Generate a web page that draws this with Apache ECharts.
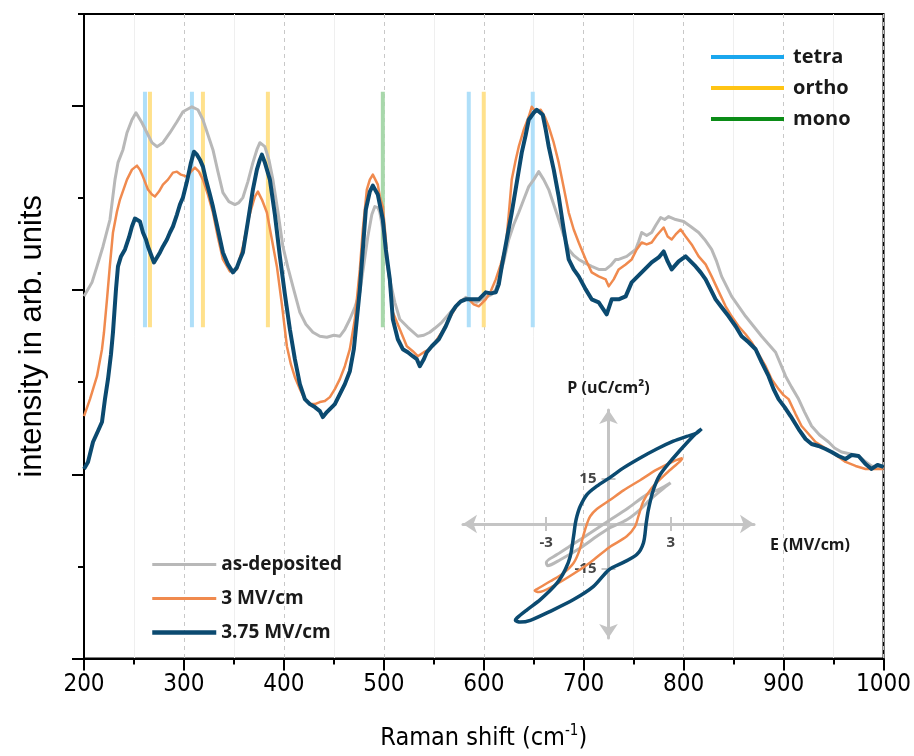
<!DOCTYPE html>
<html>
<head>
<meta charset="utf-8">
<script src="https://cdn.jsdelivr.net/npm/echarts@6/dist/echarts.min.js"></script>
<style>
  html, body { margin: 0; padding: 0; background: #fff; }
  #chart { width: 914px; height: 756px; }
</style>
</head>
<body>
<div id="chart"></div>
<script>
// Raman spectra: [shift in cm-1, intensity in arb. units]
const asDeposited = [[200,363],[208,377],[213,393],[219,413],[226,440],[231,480],[234,497],[239,510],[243,527],[248,540],[252,547],[258,537],[263,527],[268,517],[273,513],[279,517],[286,527],[293,538],[299,548],[308,553],[314,550],[319,540],[324,525],[329,510],[334,488],[339,467],[345,458],[351,455],[355,457],[359,462],[364,478],[369,497],[373,510],[376,517],[381,513],[385,500],[389,480],[394,448],[399,413],[404,392],[409,373],[416,347],[422,335],[429,327],[436,323],[443,322],[450,324],[456,323],[461,330],[466,340],[471,352],[476,367],[480,395],[484,423],[488,445],[491,453],[494,452],[496,447],[499,430],[503,397],[506,380],[511,357],[516,340],[524,332],[534,323],[540,324],[546,327],[551,331],[558,337],[565,345],[572,353],[577,358],[582,362],[587,360],[593,357],[598,360],[602,362],[608,365],[612,370],[615,380],[620,398],[625,420],[630,435],[635,447],[640,460],[645,473],[650,480],[655,488],[660,480],[665,470],[670,455],[675,440],[680,424],[685,410],[690,404],[695,400],[702,396],[708,393],[715,390],[722,390],[727,394],[732,400],[735,400],[743,403],[752,410],[755,418],[758,427],[763,424],[768,427],[772,434],[777,442],[781,440],[785,443],[792,440],[800,438],[807,433],[815,427],[821,420],[828,410],[833,398],[838,383],[843,373],[848,363],[855,353],[862,343],[870,333],[878,323],[885,315],[892,307],[897,295],[902,283],[908,272],[915,260],[921,247],[928,233],[936,224],[945,217],[951,211],[958,207],[967,205],[975,203],[981,198],[988,193],[994,192],[1000,190]];

const field3 = [[200,243],[206,260],[213,283],[218,310],[220,327],[223,360],[226,395],[229,427],[233,448],[236,460],[243,480],[248,490],[253,494],[256,490],[259,483],[264,470],[268,465],[271,463],[275,468],[279,475],[284,480],[289,487],[293,488],[297,485],[303,483],[307,488],[311,492],[315,488],[319,480],[324,465],[329,447],[334,422],[339,400],[346,388],[353,390],[359,413],[364,438],[368,453],[371,463],[374,468],[378,460],[383,447],[388,420],[393,393],[398,355],[403,313],[407,295],[411,282],[416,270],[421,260],[426,255],[431,255],[436,257],[441,258],[446,262],[451,270],[456,280],[461,293],[466,310],[471,340],[476,390],[479,430],[483,470],[486,480],[489,485],[491,487],[494,475],[496,463],[499,453],[502,420],[504,393],[509,347],[516,330],[523,313],[529,308],[534,303],[540,307],[546,310],[552,318],[558,327],[565,340],[575,357],[580,360],[585,360],[590,355],[595,353],[602,360],[607,368],[612,380],[617,395],[622,413],[625,445],[628,480],[632,500],[635,513],[640,530],[645,543],[648,553],[652,548],[657,550],[661,543],[665,533],[670,517],[675,497],[680,472],[685,447],[690,430],[695,417],[702,400],[708,387],[715,383],[722,380],[725,373],[730,380],[735,390],[742,395],[748,400],[753,410],[758,417],[763,415],[768,417],[773,424],[780,432],[784,423],[788,420],[792,425],[797,430],[802,423],[808,415],[815,403],[822,395],[828,383],[835,368],[842,353],[848,343],[855,333],[862,325],[868,317],[875,305],[882,293],[888,280],[895,270],[900,264],[905,260],[912,245],[918,233],[925,225],[932,217],[940,212],[948,207],[955,202],[962,197],[972,193],[982,190],[991,190],[1000,190]];

const field375 = [[200,190],[204,197],[209,217],[214,228],[218,237],[221,260],[224,280],[227,305],[229,327],[232,370],[234,393],[237,403],[241,410],[245,422],[248,433],[251,441],[253,443],[256,438],[259,427],[262,420],[264,413],[267,405],[270,397],[273,402],[276,407],[279,413],[283,420],[286,427],[289,433],[293,445],[296,455],[299,462],[303,478],[307,497],[310,508],[313,505],[316,500],[319,493],[322,480],[326,465],[329,453],[334,430],[339,407],[344,395],[349,387],[353,392],[356,400],[359,407],[364,438],[369,470],[373,490],[376,500],[378,505],[381,497],[386,480],[391,445],[396,403],[401,365],[406,330],[411,300],[416,275],[421,260],[426,255],[431,252],[436,248],[439,242],[443,247],[446,250],[451,255],[456,265],[461,275],[466,288],[470,310],[473,340],[476,370],[479,410],[482,450],[486,468],[489,474],[491,475],[494,465],[496,455],[499,440],[502,410],[506,380],[509,340],[514,320],[519,310],[524,307],[529,303],[533,300],[536,293],[540,300],[543,307],[548,313],[555,320],[562,333],[568,347],[572,353],[577,358],[582,360],[588,360],[595,360],[599,364],[602,367],[607,366],[612,367],[615,375],[618,393],[623,420],[628,447],[633,477],[638,507],[642,525],[645,540],[650,547],[653,550],[655,552],[659,545],[662,530],[665,513],[670,490],[675,463],[680,430],[685,400],[690,390],[695,383],[702,370],[708,360],[715,357],[719,351],[723,345],[728,360],[735,360],[742,363],[748,377],[753,382],[758,387],[763,392],[768,397],[775,402],[780,408],[784,398],[788,390],[795,398],[802,403],[807,398],[812,393],[817,387],[822,380],[827,370],[832,360],[838,352],[845,343],[852,333],[858,323],[865,317],[872,310],[878,297],[885,283],[890,270],[895,260],[901,252],[907,243],[915,230],[922,220],[928,215],[935,213],[942,210],[948,207],[955,203],[962,200],[968,204],[975,203],[982,195],[988,190],[994,194],[1000,192]];

// reference positions of the phase modes (cm-1)
const tetraShift = [261, 308, 585, 649];
const orthoShift = [266, 319, 384, 600];
const monoShift = [499];
const phaseRange = [332, 568];

// P-E hysteresis loops: [E in MV/cm, P in uC/cm2]
const loopAsDep = [[2.99,13.7],[2.48,11.7],[1.84,9.8],[0.88,5],[0.03,1.2],[-0.88,-3],[-1.68,-6.6],[-2.48,-10.2],[-2.99,-12.8],[-2.93,-13.9],[-2.32,-11.9],[-1.36,-8],[-0.56,-4.1],[0.03,-1.4],[0.88,1.4],[1.52,4.8],[2,8.1],[2.56,11.4],[2.99,13.7]];
const loop3 = [[3.57,22],[3.12,20.9],[2.32,18.1],[1.52,14.6],[0.72,11.2],[0.03,7.8],[-0.56,5],[-0.88,2.6],[-1.04,0],[-1.2,-3.6],[-1.39,-8.6],[-1.68,-13],[-2.16,-16.3],[-2.8,-19.1],[-3.44,-21.7],[-3.55,-22.2],[-3.36,-22.7],[-2.64,-20.6],[-1.68,-16.6],[-0.88,-12.8],[0.03,-7.8],[0.88,-4.1],[1.28,-0.8],[1.44,2.6],[1.68,7.6],[2.08,12],[2.8,17],[3.44,20.9],[3.57,22]];
const loop375 = [[4.48,31.7],[4.24,30.3],[3.76,29.2],[3.12,27.6],[2.32,25],[1.52,22],[0.72,18.7],[0.03,15.3],[-0.56,12.6],[-1.04,9.8],[-1.36,5.9],[-1.52,2.6],[-1.6,0],[-1.68,-4.1],[-1.84,-10.8],[-2.08,-15.2],[-2.48,-19.7],[-3.28,-25.2],[-3.92,-28.6],[-4.4,-31.3],[-4.48,-32.1],[-4.24,-32.7],[-3.76,-32.1],[-2.8,-29.1],[-1.68,-25.2],[-0.72,-20.8],[0.03,-15.2],[0.72,-12.8],[1.36,-10.2],[1.68,-6.3],[1.81,0],[1.92,4.8],[2.16,11.4],[2.48,16.4],[3.12,22],[3.84,27.6],[4.32,30.9],[4.48,31.7]];

const majorTicksY = [0, 184.6, 369.2, 553.8];
const minorTicksY = [92.3, 276.9, 461.5, 646];
const insetTicksE = [-3, 3];
const insetTicksP = [-15, 15];

const axisFont = "'Liberation Sans Narrow', 'DejaVu Sans Condensed', 'Liberation Sans', Arial, sans-serif";
const textFont = "'Open Sans', 'Noto Sans', sans-serif";

const chart = echarts.init(document.getElementById('chart'), null, { renderer: 'canvas' });

function phaseSegments(positions) {
    const out = [];
    positions.forEach(x => {
        out.push([x, phaseRange[0]], [x, phaseRange[1]], [x, '-']);
    });
    return out;
}

function phaseSeries(name, positions, color) {
    return {
        name: name,
        type: 'line',
        data: phaseSegments(positions),
        symbol: 'none',
        silent: true,
        connectNulls: false,
        z: 1,
        lineStyle: { color: color, width: 4 },
        itemStyle: { color: color }
    };
}

function spectrumSeries(name, data, color, width, z) {
    return {
        name: name,
        type: 'line',
        data: data,
        symbol: 'none',
        z: z,
        lineStyle: { color: color, width: width, join: 'round' },
        itemStyle: { color: color }
    };
}

function loopSeries(name, data, color, width) {
    return {
        name: name,
        type: 'line',
        xAxisIndex: 1,
        yAxisIndex: 1,
        data: data,
        symbol: 'none',
        smooth: 0.3,
        z: 5,
        lineStyle: { color: color, width: width },
        itemStyle: { color: color }
    };
}

const insetLine = { color: '#c4c4c4', width: 3 };
const insetTick = { color: '#c4c4c4', width: 2 };
const insetLabel = { color: '#444', fontWeight: 'bold', fontSize: 15, fontFamily: textFont };

const option = {
    animation: false,
    backgroundColor: '#fff',
    grid: [
        { left: 84, right: 29, top: 14, bottom: 96, show: true, borderColor: '#000', borderWidth: 2 },
        { left: 463, right: 160, top: 410, bottom: 118 }
    ],
    legend: [
        {
            data: [
                { name: 'as-deposited', lineStyle: { width: 3, color: '#b8b8b8' } },
                { name: '3 MV/cm', lineStyle: { width: 3, color: '#f08a4e' } },
                { name: '3.75 MV/cm', lineStyle: { width: 4.5, color: '#0b4a70' } }
            ],
            orient: 'vertical',
            left: 150,
            top: 555,
            padding: 0,
            itemWidth: 64,
            itemHeight: 22,
            itemGap: 15,
            selectedMode: false,
            itemStyle: { opacity: 0 },
            textStyle: { fontFamily: textFont, fontWeight: 'bold', fontSize: 19, color: '#1a1a1a' }
        },
        {
            data: [
                { name: 'tetra', lineStyle: { width: 4, color: '#1aa7ee' } },
                { name: 'ortho', lineStyle: { width: 4, color: '#ffc414' } },
                { name: 'mono', lineStyle: { width: 4, color: '#0b8c17' } }
            ],
            orient: 'vertical',
            left: 709,
            top: 47,
            padding: 0,
            itemWidth: 73,
            itemHeight: 22,
            itemGap: 11,
            selectedMode: false,
            itemStyle: { opacity: 0 },
            textStyle: { fontFamily: textFont, fontWeight: 'bold', fontSize: 20, color: '#1a1a1a', padding: [0, 0, 0, 4] }
        }
    ],
    xAxis: [
        {
            type: 'value',
            gridIndex: 0,
            min: 200,
            max: 1000,
            interval: 100,
            name: '{a|Raman shift (cm}{s|-1}{a|)}',
            nameLocation: 'middle',
            nameGap: 65,
            nameTextStyle: {
                rich: {
                    a: { fontFamily: axisFont, fontSize: 25, color: '#000', lineHeight: 30 },
                    s: { fontFamily: axisFont, fontSize: 15, color: '#000', verticalAlign: 'top', lineHeight: 30 }
                }
            },
            axisLine: { lineStyle: { color: '#000', width: 2 } },
            axisTick: { length: 12, lineStyle: { color: '#000', width: 2 } },
            minorTick: { show: true, splitNumber: 2, length: 6, lineStyle: { color: '#000', width: 2 } },
            splitLine: { show: true, lineStyle: { color: '#c8c8c8', type: [4, 4], width: 1 } },
            minorSplitLine: { show: true, lineStyle: { color: '#efefef', width: 1 } },
            axisLabel: { fontFamily: axisFont, fontSize: 24, color: '#000', margin: 14, formatter: v => String(v) }
        },
        {
            type: 'value',
            gridIndex: 1,
            min: -7,
            max: 7,
            position: 'bottom',
            offset: -114,
            name: 'E (MV/cm)',
            nameLocation: 'end',
            nameGap: 16,
            nameTextStyle: { fontFamily: textFont, fontWeight: 'bold', fontSize: 16, color: '#1a1a1a', verticalAlign: 'top', padding: [13, 0, 0, 0] },
            axisLine: { onZero: false, symbol: ['arrow', 'arrow'], symbolSize: [14, 14], lineStyle: insetLine },
            axisTick: { customValues: insetTicksE, length: 7, lineStyle: insetTick },
            axisLabel: Object.assign({ customValues: insetTicksE, margin: 11 }, insetLabel),
            splitLine: { show: false }
        },
        {
            type: 'value',
            gridIndex: 1,
            min: -7,
            max: 7,
            position: 'bottom',
            offset: -114,
            axisLine: { show: false, onZero: false },
            axisTick: { customValues: insetTicksE, inside: true, length: 7, lineStyle: insetTick },
            axisLabel: { show: false },
            splitLine: { show: false }
        }
    ],
    yAxis: [
        {
            type: 'value',
            gridIndex: 0,
            min: 0,
            max: 646,
            position: 'left',
            name: 'intensity in arb. units',
            nameLocation: 'middle',
            nameGap: 36,
            nameTextStyle: { fontFamily: "'Liberation Sans', Arial, sans-serif", fontSize: 31, color: '#000' },
            axisLine: { show: true, lineStyle: { color: '#000', width: 2 } },
            axisTick: { show: true, customValues: majorTicksY, length: 12, lineStyle: { color: '#000', width: 2 } },
            axisLabel: { show: false },
            splitLine: { show: false }
        },
        {
            type: 'value',
            gridIndex: 1,
            min: -38,
            max: 38,
            position: 'left',
            offset: -145.5,
            name: 'P (uC/cm²)',
            nameLocation: 'end',
            nameGap: 14,
            nameTextStyle: { fontFamily: textFont, fontWeight: 'bold', fontSize: 16, color: '#1a1a1a' },
            axisLine: { onZero: false, symbol: ['arrow', 'arrow'], symbolSize: [14, 14], lineStyle: insetLine },
            axisTick: { customValues: insetTicksP, length: 7, lineStyle: insetTick },
            axisLabel: Object.assign({ customValues: insetTicksP, margin: 12 }, insetLabel),
            splitLine: { show: false }
        },
        {
            type: 'value',
            gridIndex: 1,
            min: -38,
            max: 38,
            position: 'left',
            offset: -145.5,
            axisLine: { show: false, onZero: false },
            axisTick: { customValues: insetTicksP, inside: true, length: 7, lineStyle: insetTick },
            axisLabel: { show: false },
            splitLine: { show: false }
        },
        {
            // minor ticks of the intensity axis
            type: 'value',
            gridIndex: 0,
            min: 0,
            max: 646,
            position: 'left',
            axisLine: { show: false },
            axisTick: { show: true, customValues: minorTicksY, length: 6, lineStyle: { color: '#000', width: 2 } },
            axisLabel: { show: false },
            splitLine: { show: false }
        }
    ],
    series: [
        phaseSeries('tetra', tetraShift, '#afdff9'),
        phaseSeries('ortho', orthoShift, '#ffe18c'),
        phaseSeries('mono', monoShift, '#a8d8ab'),
        spectrumSeries('as-deposited', asDeposited, '#b8b8b8', 3, 2),
        spectrumSeries('3 MV/cm', field3, '#f08a4e', 2.5, 3),
        spectrumSeries('3.75 MV/cm', field375, '#0b4a70', 4, 4),
        loopSeries('loop as-deposited', loopAsDep, '#b8b8b8', 3),
        loopSeries('loop 3 MV/cm', loop3, '#f08a4e', 2.5),
        loopSeries('loop 3.75 MV/cm', loop375, '#0b4a70', 3.5)
    ]
};

chart.setOption(option);
</script>
</body>
</html>
